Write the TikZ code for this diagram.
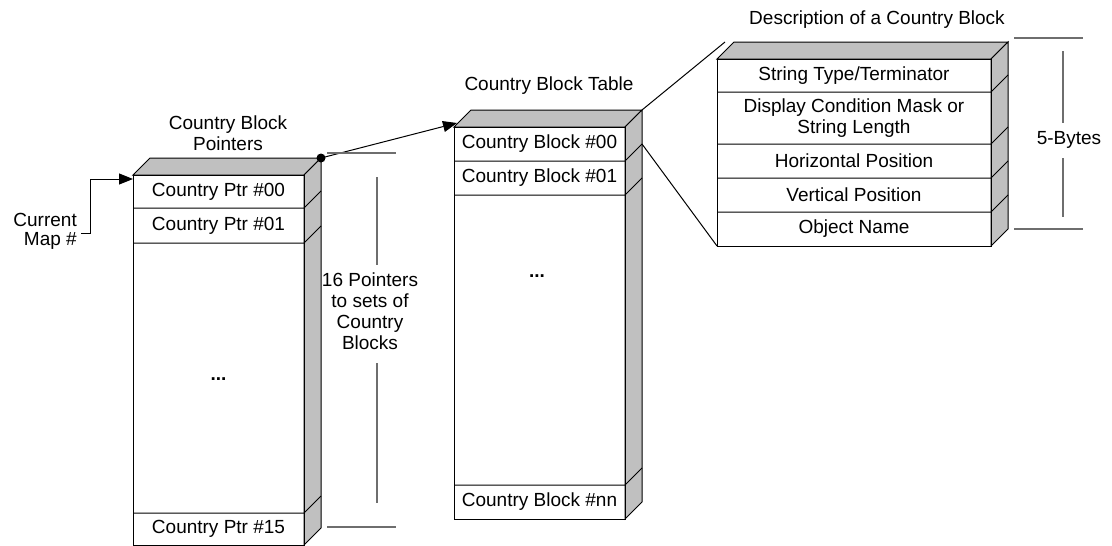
\documentclass[tikz,border=0pt]{standalone}
\usepackage{fontspec}
\setmainfont{Liberation Sans}
\usetikzlibrary{arrows.meta}
\definecolor{boxgrey}{RGB}{192,192,192}
\definecolor{dimgrey}{RGB}{110,110,110}
\newcommand\drawblock[5]{%
  \fill[white] (#1,#3) rectangle (#2,#4);
  \filldraw[shadeface] (#1,#3) -- (#1+17,#3-17) -- (#2+17,#3-17) -- (#2,#3) -- cycle;
  \filldraw[shadeface] (#2,#3) -- (#2+17,#3-17) -- (#2+17,#4-17) -- (#2,#4) -- cycle;
  \draw[frontface] (#1,#3) rectangle (#2,#4);
  \foreach \r in {#5} { \draw[frontface] (#1,\r) -- (#2,\r) -- (#2+17,\r-17); }
}
\begin{document}
\begin{tikzpicture}[x=1pt,y=-1pt,
  txt/.style={font=\fontsize{19}{21}\selectfont, inner sep=0pt, align=center},
  frontface/.style={draw=black, line width=1pt, line join=miter},
  shadeface/.style={draw=black, line width=1pt, fill=boxgrey, line join=miter},
  dimline/.style={draw=dimgrey, line width=1.1pt},
  conn/.style={draw=black, line width=1pt},
  tip/.style={-{Triangle[length=14pt,width=11pt]}}
]
\useasboundingbox (0,0) rectangle (1112,546);

% ---------- left block ----------
\drawblock{133}{304}{175}{545}{208,243,513}
\node[txt] (lp0) at (218.5,191.5) {Country Ptr \#00};
\node[txt] (lp1) at (218.5,225.5) {Country Ptr \#01};
\node[txt] (lpd) at (218.5,379) {\textbf{...}};
\node[txt] (lp15) at (218.5,529) {Country Ptr \#15};
\node[txt] (ltitle) at (228,133) {Country Block\\Pointers};

% ---------- middle block ----------
\drawblock{454}{625}{127}{519}{161,195,485}
\node[txt] (mb0) at (539.5,144) {Country Block \#00};
\node[txt] (mb1) at (539.5,178) {Country Block \#01};
\node[txt] (mbd) at (537,276) {\textbf{...}};
\node[txt] (mbn) at (539.5,502) {Country Block \#nn};
\node[txt] (mtitle) at (549,86) {Country Block Table};

% ---------- right block ----------
\drawblock{717}{991}{59}{246}{92,144,178,212}
\node[txt] (r1) at (854,75.5) {String Type/Terminator};
\node[txt] (r2) at (854,118) {Display Condition Mask or\\String Length};
\node[txt] (r3) at (854,161) {Horizontal Position};
\node[txt] (r4) at (854,195) {Vertical Position};
\node[txt] (r5) at (854,229) {Object Name};
\node[txt] (rtitle) at (877,20) {Description of a Country Block};

% ---------- current map pointer ----------
\node[txt, align=right, anchor=east, font=\fontsize{19}{19}\selectfont] (cur) at (77,231) {Current\\Map \#};
\coordinate (lin) at (133,179);
\draw[conn,tip] ([xshift=4pt,yshift=-2pt]cur.east) -- ++(9,0) |- (lin);

% ---------- pointer to table ----------
\coordinate (ldot) at (321,158);
\coordinate (mtl) at (457,123);
\fill (ldot) circle (4.5);
\draw[conn,tip] (ldot) -- (mtl);

% ---------- zoom lines ----------
\coordinate (mbr) at (642,110);
\coordinate (mrow) at (642,144);
\coordinate (rtl) at (725,42);
\coordinate (rbl) at (717,246);
\draw[conn] (mbr) -- (rtl);
\draw[conn] (mrow) -- (rbl);

% ---------- 16 pointers dimension ----------
\node[txt] (lbl16) at (370,311) {16 Pointers\\to sets of\\Country\\Blocks};
\coordinate (d1a) at (327,153); \coordinate (d1b) at (396,153);
\coordinate (d2a) at (327,527); \coordinate (d2b) at (396,527);
\coordinate (v1a) at (377,177); \coordinate (v1b) at (377,265);
\coordinate (v2a) at (377,363); \coordinate (v2b) at (377,503);
\draw[dimline] (d1a) -- (d1b);
\draw[dimline] (d2a) -- (d2b);
\draw[dimline] (v1a) -- (v1b);
\draw[dimline] (v2a) -- (v2b);

% ---------- 5 bytes dimension ----------
\node[txt] (lbl5) at (1069,140) {5-Bytes};
\coordinate (e1a) at (1014,38); \coordinate (e1b) at (1083,38);
\coordinate (e2a) at (1014,229); \coordinate (e2b) at (1083,229);
\coordinate (w1a) at (1063,51); \coordinate (w1b) at (1063,123);
\coordinate (w2a) at (1063,158); \coordinate (w2b) at (1063,217);
\draw[dimline] (e1a) -- (e1b);
\draw[dimline] (e2a) -- (e2b);
\draw[dimline] (w1a) -- (w1b);
\draw[dimline] (w2a) -- (w2b);
\end{tikzpicture}
\end{document}
